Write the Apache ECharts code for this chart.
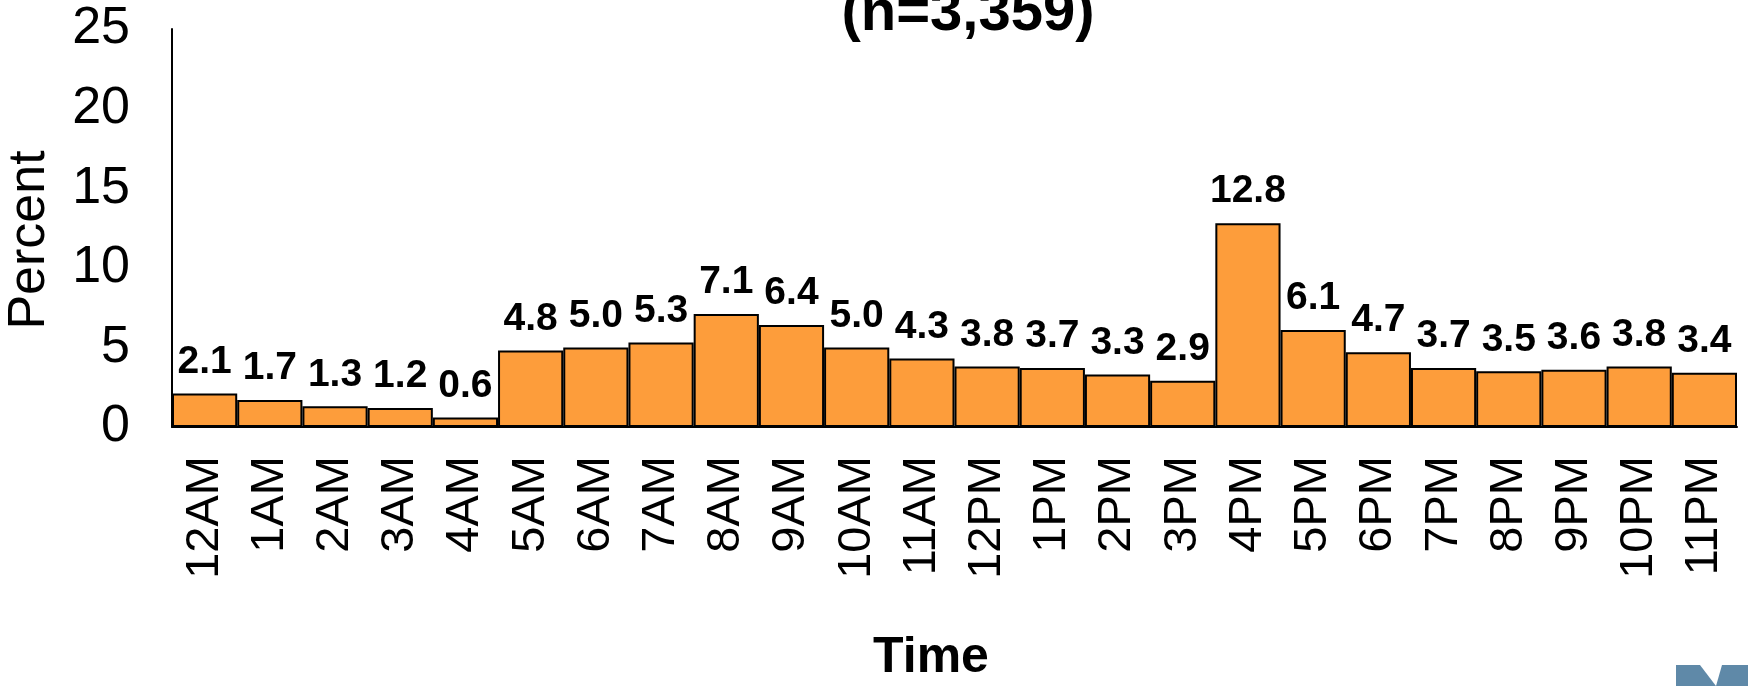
<!DOCTYPE html>
<html>
<head>
<meta charset="utf-8">
<script src="https://cdn.jsdelivr.net/npm/echarts@6/dist/echarts.min.js"></script>
<style>html,body{margin:0;padding:0;background:#fff}#c{width:1748px;height:686px}</style>
</head>
<body>
<div id="c"></div>
<script>
const categories = ['12AM','1AM','2AM','3AM','4AM','5AM','6AM','7AM','8AM','9AM','10AM','11AM','12PM','1PM','2PM','3PM','4PM','5PM','6PM','7PM','8PM','9PM','10PM','11PM'];
const percents = [2.1,1.7,1.3,1.2,0.6,4.8,5.0,5.3,7.1,6.4,5.0,4.3,3.8,3.7,3.3,2.9,12.8,6.1,4.7,3.7,3.5,3.6,3.8,3.4];
const titleText = '(n=3,359)';
const yName = 'Percent';
const xName = 'Time';

const chart = echarts.init(document.getElementById('c'), null, {renderer: 'canvas'});
const font = 'Liberation Sans, Arial, sans-serif';
chart.setOption({
  animation: false,
  backgroundColor: '#fff',
  grid: {left: 172, right: 11, top: 29, bottom: 259, containLabel: false},
  graphic: [
    {type: 'text', x: 968, y: 43, style: {text: titleText, textAlign: 'center', textVerticalAlign: 'bottom', fontFamily: font, fontWeight: 'bold', fontSize: 58, fill: '#000'}},
    {type: 'text', x: 30, y: 240, rotation: Math.PI / 2, style: {text: yName, textAlign: 'center', textVerticalAlign: 'middle', fontFamily: font, fontSize: 52, fill: '#000'}},
    {type: 'text', x: 931, y: 658, style: {text: xName, textAlign: 'center', textVerticalAlign: 'middle', fontFamily: font, fontWeight: 'bold', fontSize: 50, fill: '#000'}},
    {type: 'rect', shape: {x: 1676, y: 665, width: 72, height: 21}, style: {fill: '#5f89a8'}},
    {type: 'polygon', shape: {points: [[1700,665],[1722,665],[1716,686]]}, style: {fill: '#ffffff'}}
  ],
  xAxis: {
    type: 'category',
    data: categories,
    axisLine: {show: true, lineStyle: {color: '#000', width: 2}},
    axisTick: {show: false},
    axisLabel: {rotate: 90, margin: 29, fontFamily: font, fontSize: 47, color: '#000', interval: 0},
    splitLine: {show: false}
  },
  yAxis: {
    type: 'value',
    min: 0, max: 25, interval: 5,
    axisLine: {show: true, lineStyle: {color: '#000', width: 2}},
    axisTick: {show: false},
    axisLabel: {margin: 42, fontFamily: font, fontSize: 52, color: '#000'},
    splitLine: {show: false}
  },
  series: [{
    type: 'bar',
    data: percents,
    barCategoryGap: '0%',
    itemStyle: {color: '#FD9D3B', borderColor: '#000', borderWidth: 2},
    label: {
      show: true, position: 'top', distance: 12,
      formatter: p => p.value.toFixed(1),
      fontFamily: font, fontWeight: 'bold', fontSize: 39, color: '#000'
    }
  }]
});
</script>
</body>
</html>
